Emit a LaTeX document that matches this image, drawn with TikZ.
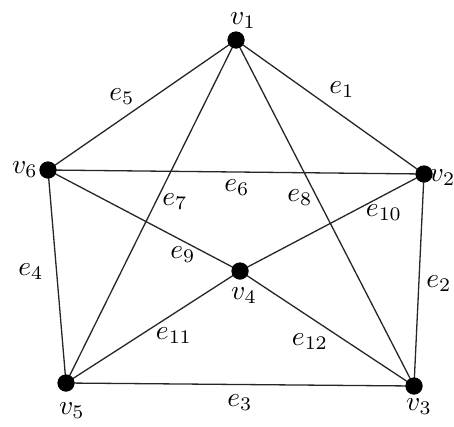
\documentclass[tikz,border=0pt]{standalone}
\usepackage{graphicx}
\newcommand{\glab}[1]{\scalebox{2.75}{$#1$}}
\begin{document}
\begin{tikzpicture}[x=1pt,y=-1pt,
  vert/.style={circle,fill=black,inner sep=0pt,minimum size=17pt},
  edge/.style={line width=1.3pt,draw=black!85},
  lab/.style={inner sep=0pt}]
\useasboundingbox (0,0) rectangle (454,426);
\node[vert] (v1) at (236,40) {};
\node[vert] (v2) at (424,174) {};
\node[vert] (v3) at (414,386) {};
\node[vert] (v4) at (240,271) {};
\node[vert] (v5) at (66,383) {};
\node[vert] (v6) at (48,170) {};
\draw[edge] (v1.center) -- (v6.center);
\draw[edge] (v1.center) -- (v2.center);
\draw[edge] (v6.center) -- (v2.center);
\draw[edge] (v1.center) -- (v5.center);
\draw[edge] (v1.center) -- (v3.center);
\draw[edge] (v6.center) -- (v4.center);
\draw[edge] (v4.center) -- (v3.center);
\draw[edge] (v5.center) -- (v4.center);
\draw[edge] (v4.center) -- (v2.center);
\draw[edge] (v6.center) -- (v5.center);
\draw[edge] (v2.center) -- (v3.center);
\draw[edge] (v5.center) -- (v3.center);
\foreach \n in {v1,v2,v3,v4,v5,v6} \node[vert] at (\n) {};
\node[lab] (l1) at (243,21) {\glab{v_1}};
\node[lab] (l2) at (442.5,178) {\glab{v_2}};
\node[lab] (l3) at (419,407) {\glab{v_3}};
\node[lab] (l4) at (244,296) {\glab{v_4}};
\node[lab] (l5) at (72,411) {\glab{v_5}};
\node[lab] (l6) at (25,170) {\glab{v_6}};
\node[lab] (e1) at (342,90) {\glab{e_1}};
\node[lab] (e2) at (439,284) {\glab{e_2}};
\node[lab] (e3) at (240,403) {\glab{e_3}};
\node[lab] (e4) at (31,272) {\glab{e_4}};
\node[lab] (e5) at (122,97) {\glab{e_5}};
\node[lab] (e6) at (237,188) {\glab{e_6}};
\node[lab] (e7) at (175,202) {\glab{e_7}};
\node[lab] (e8) at (300,198) {\glab{e_8}};
\node[lab] (e9) at (183,255) {\glab{e_9}};
\node[lab] (e10) at (384,213) {\glab{e_{10}}};
\node[lab] (e11) at (174,336) {\glab{e_{11}}};
\node[lab] (e12) at (310,342) {\glab{e_{12}}};
\end{tikzpicture}
\end{document}
